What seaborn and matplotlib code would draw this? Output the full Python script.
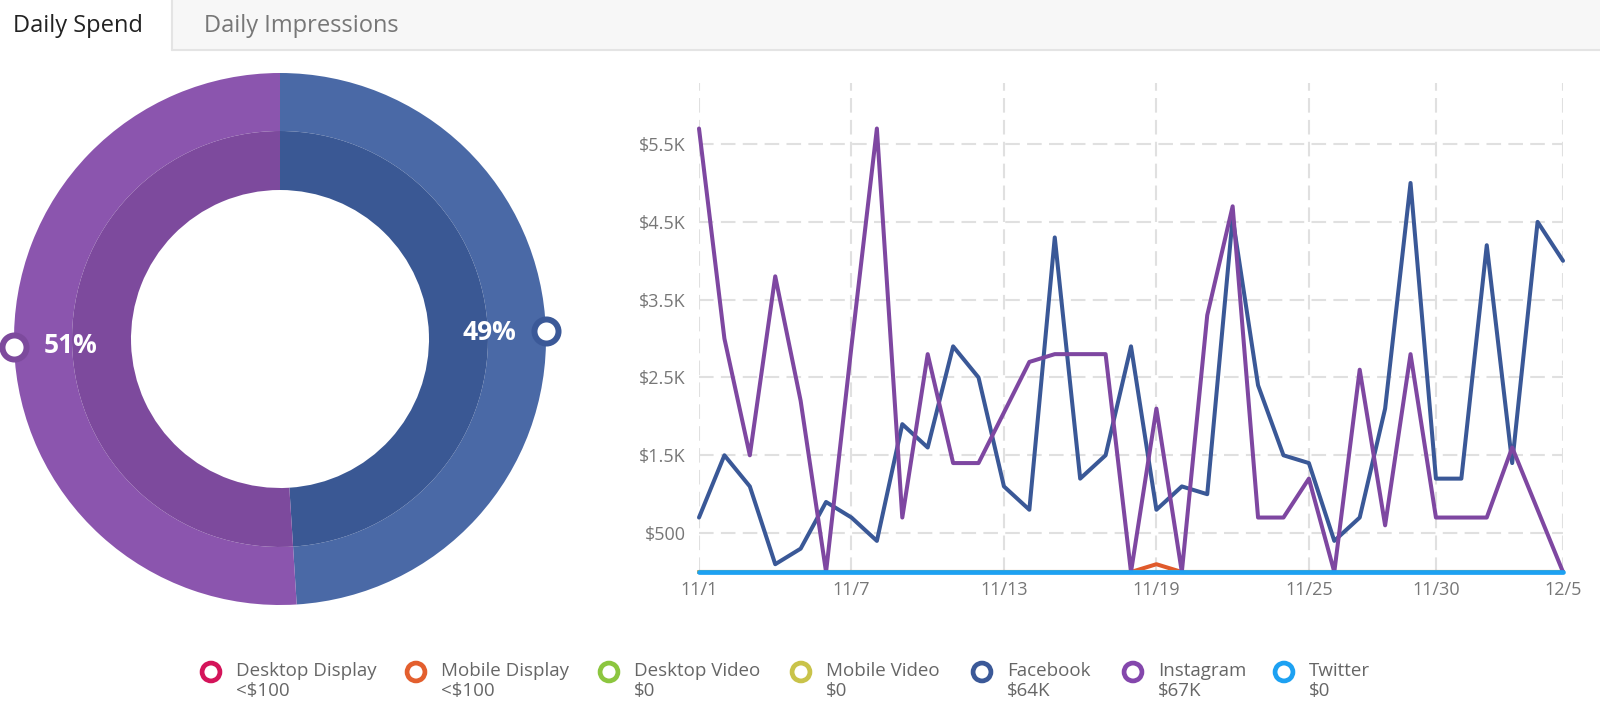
import numpy as np
import pandas as pd
import seaborn as sns
import matplotlib.pyplot as plt
from matplotlib.patches import Rectangle

# ---- data
days = pd.date_range("2016-11-01", "2016-12-05", freq="D")
channels = ["Desktop Display", "Mobile Display", "Desktop Video", "Mobile Video",
            "Facebook", "Instagram", "Twitter"]
totals = ["<$100", "<$100", "$0", "$0", "$64K", "$67K", "$0"]

desktop_display = [0] * 35
mobile_display = [0] * 18 + [100] + [0] * 16
desktop_video = [0] * 35
mobile_video = [0] * 35
facebook = [700, 1500, 1100, 100, 300, 900, 700, 400, 1900, 1600, 2900, 2500,
            1100, 800, 4300, 1200, 1500, 2900, 800, 1100, 1000, 4550, 2400, 1500,
            1400, 400, 700, 2100, 5000, 1200, 1200, 4200, 1400, 4500, 4000]
instagram = [5700, 3000, 1500, 3800, 2200, 0, 2900, 5700, 700, 2800, 1400, 1400,
             2050, 2700, 2800, 2800, 2800, 0, 2100, 0, 3300, 4700, 700, 700,
             1200, 0, 2600, 600, 2800, 700, 700, 700, 1600, 800, 0]
twitter = [0] * 35

donut_labels = ["Facebook", "Instagram"]
donut_shares = [49, 51]

x_tick_dates = pd.to_datetime(["2016-11-01", "2016-11-07", "2016-11-13", "2016-11-19",
                               "2016-11-25", "2016-11-30", "2016-12-05"])
y_ticks = [500, 1500, 2500, 3500, 4500, 5500]
y_labels = ["$500", "$1.5K", "$2.5K", "$3.5K", "$4.5K", "$5.5K"]

# ---- styles
legend_colors = ["#D4145A", "#E35F2E", "#8CC63F", "#C9C34A", "#3B5998", "#8447AC", "#1DA1F2"]
line_colors = ["#D4145A", "#E05A2B", "#8CC63F", "#C9C34A", "#3A5897", "#7E47A1", "#1DA1F2"]
donut_outer = ["#4A69A6", "#8B55AE"]
donut_inner = ["#3A5894", "#7D4A9D"]
marker_edge = ["#3B5998", "#7D4A9D"]

sns.set_theme(style="white")
plt.rcParams['font.family'] = ['Open Sans', 'DejaVu Sans']
plt.rcParams['text.parse_math'] = False

W, H = 1600, 724
fig = plt.figure(figsize=(16, 7.24), dpi=100)
fig.patch.set_facecolor("white")

# background layer in pixel coords: tabs + legend
bg = fig.add_axes([0, 0, 1, 1])
bg.set_xlim(0, W)
bg.set_ylim(H, 0)
bg.axis("off")
bg.add_patch(Rectangle((172, 0), W - 172, 50, fc="#F7F7F7", ec="none"))
bg.plot([172, W], [50, 50], color="#E4E4E4", lw=1.5)
bg.plot([172, 172], [0, 50], color="#E4E4E4", lw=1.5)
bg.text(13, 32, "Daily Spend", fontsize=17, color="#222222", va="baseline")
bg.text(204, 32, "Daily Impressions", fontsize=17, color="#777777", va="baseline")

legend_x = [211, 416, 609, 801, 982, 1133, 1284]
bg.scatter(legend_x, [672] * len(legend_x), s=165, facecolor="white",
           edgecolor=legend_colors, linewidth=3.4, zorder=3)
for lx, name, tot in zip(legend_x, channels, totals):
    bg.text(lx + 25, 671, name, fontsize=13.5, color="#666666", va="center")
    bg.text(lx + 25, 691, tot, fontsize=13.5, color="#666666", va="center")

# ---- donut
R, R_mid, R_in = 266, 208, 149
cx, cy = 280, 339
axd = fig.add_axes([(cx - R) / W, (H - cy - R) / H, 2 * R / W, 2 * R / H])
axd.pie(donut_shares, radius=1, startangle=90, counterclock=False,
        colors=donut_outer, wedgeprops=dict(width=(R - R_mid) / R, linewidth=0))
axd.pie(donut_shares, radius=R_mid / R, startangle=90, counterclock=False,
        colors=donut_inner, wedgeprops=dict(width=(R_mid - R_in) / R, linewidth=0))
axd.set_xlim(-1, 1)
axd.set_ylim(-1, 1)
axd.axis("off")

cum = 0
for share, edge in zip(donut_shares, marker_edge):
    mid = 90 - (cum + share / 2) / 100 * 360
    cum += share
    a = np.deg2rad(mid)
    axd.scatter([np.cos(a)], [np.sin(a)], s=300, facecolor="white", edgecolor=edge,
                linewidth=4.3, clip_on=False, zorder=5)
    axd.text(0.786 * np.cos(a), 0.786 * np.sin(a), f"{share}%", color="white",
             fontsize=19, fontweight="bold", ha="center", va="center", zorder=5)

# ---- line chart
spend = pd.DataFrame({"date": days, "Desktop Display": desktop_display,
                      "Mobile Display": mobile_display, "Desktop Video": desktop_video,
                      "Mobile Video": mobile_video, "Facebook": facebook,
                      "Instagram": instagram, "Twitter": twitter})
long = spend.melt(id_vars="date", var_name="channel", value_name="spend")

x0, x1, y_top, y_bot = 699, 1563, 83, 572
ax = fig.add_axes([x0 / W, (H - y_bot) / H, (x1 - x0) / W, (y_bot - y_top) / H])
ax.patch.set_alpha(0)
sns.lineplot(data=long, x="date", y="spend", hue="channel", hue_order=channels,
             palette=line_colors, linewidth=2.9, legend=False, errorbar=None,
             ax=ax, clip_on=False)
ax.lines[-1].set_linewidth(3.4)
ax.set_xlim(days[0], days[-1])
ax.set_ylim(0, 6285)
ax.set_xticks(x_tick_dates)
ax.set_xticklabels([f"{d.month}/{d.day}" for d in x_tick_dates])
ax.set_yticks(y_ticks)
ax.set_yticklabels(y_labels)
ax.grid(True, color="#E0E0E0", linestyle=(0, (7, 3.5)), linewidth=1.5)
ax.set_axisbelow(True)
for s in ax.spines.values():
    s.set_visible(False)
ax.tick_params(axis="x", length=0, pad=6.5, labelsize=13, labelcolor="#777777")
ax.tick_params(axis="y", length=0, pad=9.4, labelsize=13, labelcolor="#777777")
ax.set_xlabel("")
ax.set_ylabel("")

fig.savefig("out.png", dpi=100)
